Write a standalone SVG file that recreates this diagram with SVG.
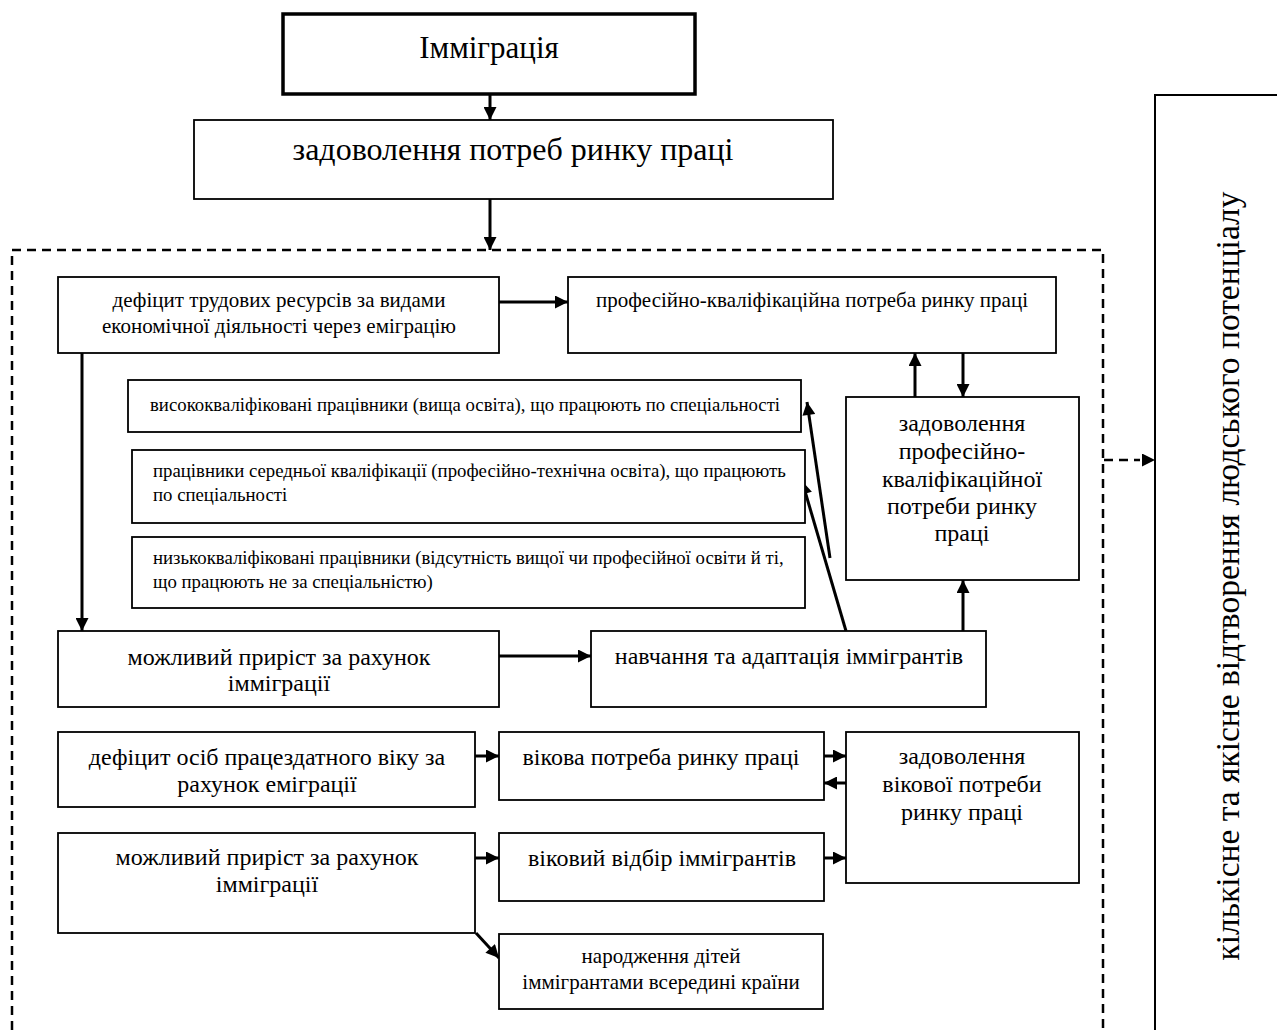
<svg xmlns="http://www.w3.org/2000/svg" width="1277" height="1030" viewBox="0 0 1277 1030">
<style>
rect{fill:#fff;stroke:#000;stroke-width:1.8}
text{font-family:"Liberation Serif","Times New Roman",serif;fill:#000}
.c{text-anchor:middle}
.f31{font-size:31px}.f32{font-size:32px}.f24{font-size:24px}.f21{font-size:21px}.f19{font-size:18.8px}
.ar{fill:none;stroke:#000;stroke-width:3;marker-end:url(#ah)}
.dash{fill:none;stroke:#000;stroke-width:2.5;stroke-dasharray:9 6}
</style>
<defs>
<marker id="ah" viewBox="0 0 10 10" refX="10" refY="5" markerUnits="userSpaceOnUse" markerWidth="15" markerHeight="13" orient="auto"><path d="M0,0 L10,5 L0,10 z" fill="#000"/></marker>
</defs>
<rect width="1277" height="1030" style="fill:#fff;stroke:none"/>
<g id="connectors">
<path class="dash" d="M12,1030 V250 H1103 V1030"/>
<line class="ar" x1="490" y1="94" x2="490" y2="120"/>
<line class="ar" x1="490" y1="199" x2="490" y2="250"/>
<line class="ar" x1="499" y1="302" x2="568" y2="302"/>
<line class="ar" x1="82" y1="353" x2="82" y2="631"/>
<line class="ar" x1="915" y1="397" x2="915" y2="353"/>
<line class="ar" x1="963" y1="353" x2="963" y2="397"/>
<line class="ar" x1="963" y1="631" x2="963" y2="580"/>
<line class="ar" x1="830" y1="558" x2="807" y2="402"/>
<line class="ar" x1="846" y1="631" x2="802" y2="481"/>
<line class="ar" x1="499" y1="656" x2="591" y2="656"/>
<line class="ar" x1="475" y1="756" x2="499" y2="756"/>
<line class="ar" x1="824" y1="756" x2="846" y2="756"/>
<line class="ar" x1="846" y1="783" x2="824" y2="783"/>
<line class="ar" x1="475" y1="858" x2="499" y2="858"/>
<line class="ar" x1="824" y1="858" x2="846" y2="858"/>
<line class="ar" x1="476" y1="933" x2="499" y2="958"/>
<line x1="1104" y1="460" x2="1140" y2="460" style="stroke:#000;stroke-width:2.5;stroke-dasharray:9 6"/>
<line x1="1140" y1="460" x2="1155" y2="460" style="stroke:none;stroke-width:2.5;marker-end:url(#ah)"/>
</g>
<g id="n-immigration">
<rect x="283" y="14" width="412" height="80" style="stroke-width:3.5"/>
<text class="c f31" x="489" y="58">Імміграція</text>
</g>
<g id="n-needs">
<rect x="194" y="120" width="639" height="79"/>
<text class="c f32" x="513" y="160">задоволення потреб ринку праці</text>
</g>
<g id="n-deficit-labour">
<rect x="58" y="277" width="441" height="76"/>
<text class="c f21" x="279" y="307">дефіцит трудових ресурсів за видами</text>
<text class="c f21" x="279" y="333">економічної діяльності через еміграцію</text>
</g>
<g id="n-prof-need">
<rect x="568" y="277" width="488" height="76"/>
<text class="c f21" x="812" y="307">професійно-кваліфікаційна потреба ринку праці</text>
</g>
<g id="n-high">
<rect x="128" y="380" width="673" height="52"/>
<text class="f19" x="150" y="411">висококваліфіковані працівники (вища освіта), що працюють по спеціальності</text>
</g>
<g id="n-mid">
<rect x="132" y="450" width="673" height="73"/>
<text class="f19" x="153" y="477">працівники середньої кваліфікації (професійно-технічна освіта), що працюють</text>
<text class="f19" x="153" y="501">по спеціальності</text>
</g>
<g id="n-low">
<rect x="132" y="537" width="673" height="71"/>
<text class="f19" x="153" y="564">низькокваліфіковані працівники (відсутність вищої чи професійної освіти й ті,</text>
<text class="f19" x="153" y="588">що працюють не за спеціальністю)</text>
</g>
<g id="n-prof-satisfy">
<rect x="846" y="397" width="233" height="183"/>
<text class="c f24" x="962" y="431">задоволення</text>
<text class="c f24" x="962" y="459">професійно-</text>
<text class="c f24" x="962" y="487">кваліфікаційної</text>
<text class="c f24" x="962" y="514">потреби ринку</text>
<text class="c f24" x="962" y="541">праці</text>
</g>
<g id="n-growth1">
<rect x="58" y="631" width="441" height="76"/>
<text class="c f24" x="279" y="665">можливий приріст за рахунок</text>
<text class="c f24" x="279" y="691">імміграції</text>
</g>
<g id="n-training">
<rect x="591" y="631" width="395" height="76"/>
<text class="c f24" x="789" y="664">навчання та адаптація іммігрантів</text>
</g>
<g id="n-deficit-age">
<rect x="58" y="732" width="417" height="75"/>
<text class="c f24" x="267" y="765">дефіцит осіб працездатного віку за</text>
<text class="c f24" x="267" y="792">рахунок еміграції</text>
</g>
<g id="n-age-need">
<rect x="499" y="732" width="325" height="68"/>
<text class="c f24" x="661" y="765">вікова потреба ринку праці</text>
</g>
<g id="n-age-satisfy">
<rect x="846" y="732" width="233" height="151"/>
<text class="c f24" x="962" y="764">задоволення</text>
<text class="c f24" x="962" y="792">вікової потреби</text>
<text class="c f24" x="962" y="820">ринку праці</text>
</g>
<g id="n-growth2">
<rect x="58" y="833" width="417" height="100"/>
<text class="c f24" x="267" y="865">можливий приріст за рахунок</text>
<text class="c f24" x="267" y="892">імміграції</text>
</g>
<g id="n-age-select">
<rect x="499" y="833" width="325" height="68"/>
<text class="c f24" x="662" y="866">віковий відбір іммігрантів</text>
</g>
<g id="n-births">
<rect x="499" y="934" width="324" height="75"/>
<text class="c f21" x="661" y="963">народження дітей</text>
<text class="c f21" x="661" y="989">іммігрантами всередині країни</text>
</g>
<g id="n-potential">
<path d="M1290,95 H1155 V1040" style="fill:#fff;stroke:#000;stroke-width:2"/>
<text class="c" x="1239" y="576" transform="rotate(-90 1239 576)" style="font-size:33.5px">кількісне та якісне відтворення людського потенціалу</text>
</g>
</svg>
